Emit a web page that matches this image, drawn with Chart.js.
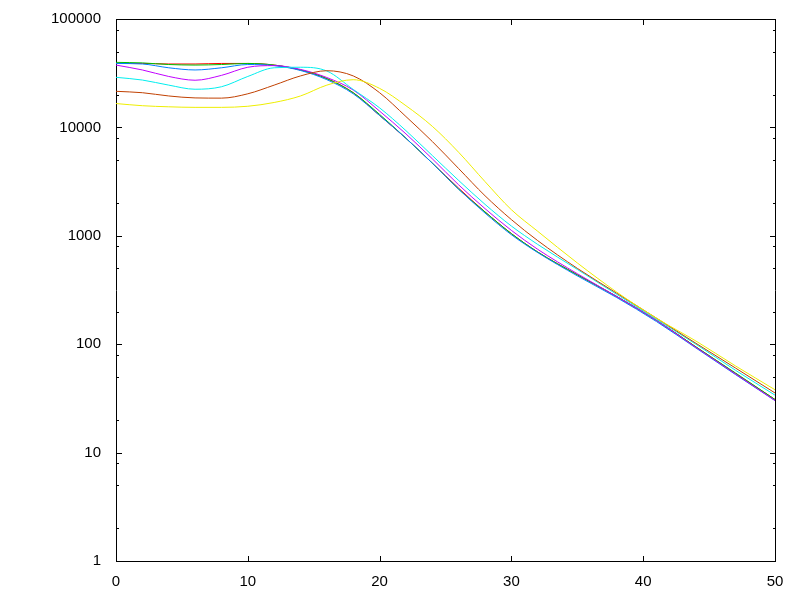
<!DOCTYPE html>
<html>
<head>
<meta charset="utf-8">
<script src="https://cdn.jsdelivr.net/npm/chart.js@4.4.0/dist/chart.umd.min.js"></script>
<style>
html, body { margin: 0; padding: 0; background: #fff; }
#wrap { width: 800px; height: 600px; }
</style>
</head>
<body>
<div id="wrap"><canvas id="chart" width="800" height="600"></canvas></div>
<script>
// x positions shared by every curve
const xValues = [0, 2, 4, 6, 8, 10, 12, 14, 16, 18, 20, 22, 24, 26, 28, 30, 32, 35, 38, 41, 44, 47, 50];

// curves (gnuplot default colour order)
const redSeries     = [38900, 38900, 38460, 38460, 38900, 38900, 37580, 33880, 28180, 20890, 12880, 7940, 4680, 2750, 1660, 1047, 708, 437, 275, 166, 94.4, 53.7, 30.9];
const greenSeries   = [39800, 39360, 38020, 37580, 38020, 38900, 37580, 33880, 28180, 20890, 13180, 7940, 4680, 2690, 1660, 1047, 708, 437, 275, 166, 94.4, 54.3, 30.9];
const blueSeries    = [38900, 38460, 35480, 33880, 35480, 38020, 37150, 33500, 27540, 20420, 12880, 7940, 4680, 2690, 1620, 1023, 700, 427, 269, 162, 92.3, 52.5, 30.2];
const magentaSeries = [37580, 33880, 29510, 27230, 30200, 35890, 37150, 34280, 28840, 22130, 14130, 8710, 5130, 2950, 1780, 1122, 750, 447, 275, 166, 93.3, 53.1, 30.2];
const cyanSeries    = [28970, 27350, 24550, 22490, 23710, 29510, 35480, 35890, 33110, 22390, 15140, 9330, 5500, 3240, 1950, 1230, 832, 490, 288, 170, 100, 57.5, 33.9];
const brownSeries   = [21530, 20890, 19500, 18710, 18620, 20420, 24550, 29850, 33340, 29850, 20890, 12590, 7410, 4170, 2340, 1410, 902, 501, 295, 174, 102, 60.3, 35.5];
const yellowSeries  = [16600, 15850, 15490, 15310, 15310, 15670, 16980, 19500, 24550, 27540, 22910, 15850, 10230, 5890, 3160, 1740, 1100, 562, 302, 174, 107, 63.1, 38.0];

// tick labels
const yTickValues = [1, 10, 100, 1000, 10000, 100000];
const xTickValues = [0, 10, 20, 30, 40, 50];
const minorFactors = [2, 5, 8];

const seriesList = [
    { data: redSeries, color: '#ff0000' },
    { data: greenSeries, color: '#00c000' },
    { data: blueSeries, color: '#0080ff' },
    { data: magentaSeries, color: '#c000ff' },
    { data: cyanSeries, color: '#00eeee' },
    { data: brownSeries, color: '#c04000' },
    { data: yellowSeries, color: '#eeee00' }
];

Chart.defaults.font.family = "'Liberation Sans', Arial, sans-serif";
Chart.defaults.font.size = 15;
Chart.defaults.color = '#000';

// gnuplot style border with inward ticks on all four sides
const frameTicks = {
    id: 'frameTicks',
    beforeDatasetsDraw(chart) {
        const { ctx, scales: { x, y } } = chart;
        const L = Math.round(x.getPixelForValue(0));
        const R = Math.round(x.getPixelForValue(50));
        const T = Math.round(y.getPixelForValue(100000));
        const B = Math.round(y.getPixelForValue(1));
        ctx.save();
        ctx.strokeStyle = '#000';
        ctx.lineWidth = 1;
        ctx.beginPath();
        ctx.rect(L + 0.5, T + 0.5, R - L, B - T);

        const yTick = (v, len) => {
            const py = Math.round(y.getPixelForValue(v)) + 0.5;
            ctx.moveTo(L, py); ctx.lineTo(L + len, py);
            ctx.moveTo(R + 1, py); ctx.lineTo(R + 1 - len, py);
        };
        yTickValues.forEach(v => yTick(v, 6));
        yTickValues.slice(0, -1).forEach(d => minorFactors.forEach(f => yTick(d * f, 3)));

        xTickValues.forEach(v => {
            const px = Math.round(x.getPixelForValue(v)) + 0.5;
            ctx.moveTo(px, B + 1); ctx.lineTo(px, B + 1 - 6);
            ctx.moveTo(px, T); ctx.lineTo(px, T + 6);
        });
        ctx.stroke();
        ctx.restore();
    }
};

const ctx = document.getElementById('chart').getContext('2d');
const chart = new Chart(ctx, {
    type: 'line',
    data: {
        datasets: seriesList.map((s, i) => ({
            data: xValues.map((xv, j) => ({ x: xv, y: s.data[j] })),
            borderColor: s.color,
            borderWidth: 1,
            pointRadius: 0,
            fill: false,
            cubicInterpolationMode: 'monotone',
            order: seriesList.length - i
        }))
    },
    options: {
        responsive: false,
        animation: false,
        layout: { padding: { left: 0, right: 25, top: 19, bottom: 0 } },
        plugins: {
            legend: { display: false },
            tooltip: { enabled: false }
        },
        scales: {
            x: {
                type: 'linear',
                min: 0,
                max: 50,
                grid: { display: false, drawTicks: false },
                border: { display: false },
                afterBuildTicks: scale => { scale.ticks = xTickValues.map(v => ({ value: v })); },
                ticks: { padding: 12, maxRotation: 0, callback: v => String(v) },
                afterFit: scale => { scale.height = 39; scale.paddingLeft = 0; scale.paddingRight = 0; }
            },
            y: {
                type: 'logarithmic',
                min: 1,
                max: 100000,
                grid: { display: false, drawTicks: false },
                border: { display: false },
                afterBuildTicks: scale => { scale.ticks = yTickValues.map(v => ({ value: v })); },
                ticks: { padding: 15, callback: v => String(v) },
                afterFit: scale => { scale.width = 116; scale.paddingTop = 0; scale.paddingBottom = 0; }
            }
        }
    },
    plugins: [frameTicks]
});
</script>
</body>
</html>
